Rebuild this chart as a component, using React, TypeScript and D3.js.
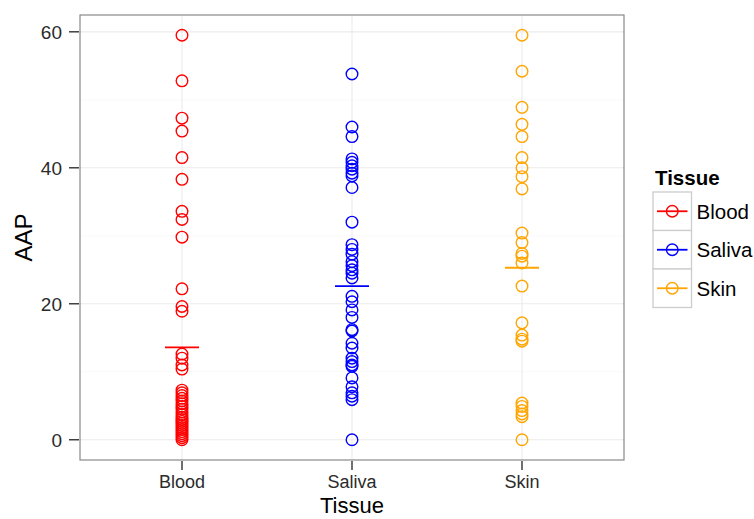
import React from "react";
import * as d3 from "d3";

const categories = ["Blood", "Saliva", "Skin"];
const colors = ["#FF0000", "#0000FF", "#FFA500"];

const bloodValues = [59.5, 52.8, 47.3, 45.4, 41.5, 38.3, 33.6, 32.4, 29.8, 22.2, 19.6, 18.9, 12.6, 12.0, 11.0, 10.4,
  7.3, 6.9, 6.5, 6.1, 5.7, 5.3, 4.9, 4.5, 4.1, 3.7, 3.3, 3.0, 2.7, 2.4, 2.1, 1.8, 1.5, 1.2, 0.9, 0.6, 0.3, 0.0];
const salivaValues = [53.8, 46.0, 44.6, 41.3, 40.8, 40.3, 39.8, 39.2, 38.8, 37.1, 32.0, 28.7, 28.0, 27.3, 26.2, 25.6,
  25.0, 24.5, 23.8, 21.1, 20.3, 19.1, 18.0, 16.2, 16.0, 14.2, 13.5, 12.0, 11.5, 11.0, 10.8, 9.1, 7.8, 6.9, 6.4, 5.9, 0.0];
const skinValues = [59.5, 54.2, 48.9, 46.4, 44.6, 41.5, 40.0, 38.7, 36.9, 30.4, 29.0, 27.4, 27.0, 26.0, 22.6, 17.2,
  15.4, 14.8, 14.5, 5.4, 4.9, 4.3, 3.8, 3.4, 0.0];
const seriesValues = [bloodValues, salivaValues, skinValues];
const meanValues = [13.6, 22.6, 25.3];

const yTicks = [0, 20, 40, 60];
const yMinor = [10, 30, 50];

const W = 754, H = 519;
const panel = { left: 80, right: 624, top: 15, bottom: 460 };
const font = "'Liberation Sans', Arial, Helvetica, sans-serif";

export default function App() {
  const x = d3.scalePoint<string>().domain(categories)
    .range([panel.left, panel.right]).padding(0.6);
  const y = d3.scaleLinear().domain([-2.975, 62.475]).range([panel.bottom, panel.top]);

  const legendX = 653, legendY = 192, keySize = 38.5;

  return (
    <svg width={W} height={H} style={{ position: "absolute", left: 0, top: 0 }} fontFamily={font}>
      <rect x={0} y={0} width={W} height={H} fill="#fff" />
      {/* minor grid */}
      {yMinor.map((t) => (
        <line key={"mn" + t} x1={panel.left} x2={panel.right} y1={y(t)} y2={y(t)} stroke="#f5f5f5" strokeWidth={0.6} />
      ))}
      {yTicks.map((t) => (
        <line key={"mj" + t} x1={panel.left} x2={panel.right} y1={y(t)} y2={y(t)} stroke="#ebebeb" strokeWidth={1.1} />
      ))}
      {categories.map((c) => (
        <line key={"vg" + c} x1={x(c)} x2={x(c)} y1={panel.top} y2={panel.bottom} stroke="#ebebeb" strokeWidth={1.1} />
      ))}
      {/* points */}
      {categories.map((c, i) => (
        <g key={"pts" + c}>
          {seriesValues[i].map((v, j) => (
            <circle key={j} cx={x(c)} cy={y(v)} r={5.8} fill="none" stroke={colors[i]} strokeWidth={1.4} />
          ))}
        </g>
      ))}
      {/* mean lines */}
      {categories.map((c, i) => (
        <line key={"mean" + c} x1={x(c)! - 17} x2={x(c)! + 17} y1={y(meanValues[i])} y2={y(meanValues[i])}
          stroke={colors[i]} strokeWidth={1.8} />
      ))}
      {/* panel border */}
      <rect x={panel.left} y={panel.top} width={panel.right - panel.left} height={panel.bottom - panel.top}
        fill="none" stroke="#7f7f7f" strokeWidth={1.1} />
      {/* y axis */}
      {yTicks.map((t) => (
        <g key={"yt" + t}>
          <line x1={panel.left - 11} x2={panel.left - 1} y1={y(t)} y2={y(t)} stroke="#222" strokeWidth={1.3} />
          <text x={panel.left - 18} y={y(t)} dy="0.36em" textAnchor="end" fontSize={19} fill="#2b2b2b">{t}</text>
        </g>
      ))}
      {/* x axis */}
      {categories.map((c) => (
        <g key={"xt" + c}>
          <line x1={x(c)} x2={x(c)} y1={panel.bottom + 1} y2={panel.bottom + 10} stroke="#222" strokeWidth={1.3} />
          <text x={x(c)} y={488} textAnchor="middle" fontSize={18} fill="#2b2b2b">{c}</text>
        </g>
      ))}
      <text x={352} y={513} textAnchor="middle" fontSize={22} fill="#000">Tissue</text>
      <text transform={`translate(32, ${(panel.top + panel.bottom) / 2}) rotate(-90)`} textAnchor="middle" fontSize={24} fill="#000">AAP</text>
      {/* legend */}
      <text x={legendX + 2} y={185} fontSize={20.5} fontWeight="bold" fill="#000">Tissue</text>
      {categories.map((c, i) => {
        const ky = legendY + i * keySize;
        return (
          <g key={"lg" + c}>
            <rect x={legendX} y={ky} width={keySize} height={keySize} fill="#fff" stroke="#cccccc" strokeWidth={1.3} />
            <line x1={legendX + 4} x2={legendX + keySize - 4} y1={ky + keySize / 2} y2={ky + keySize / 2} stroke={colors[i]} strokeWidth={1.8} />
            <circle cx={legendX + keySize / 2} cy={ky + keySize / 2} r={5.8} fill="none" stroke={colors[i]} strokeWidth={1.4} />
            <text x={legendX + keySize + 5} y={ky + keySize / 2} dy="0.36em" fontSize={20.5} fill="#000">{c}</text>
          </g>
        );
      })}
    </svg>
  );
}
